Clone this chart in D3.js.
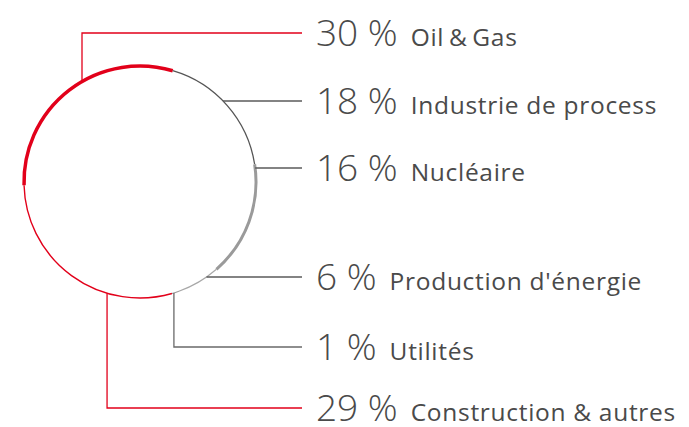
<!DOCTYPE html>
<html><head><meta charset="utf-8">
<script src="https://cdn.jsdelivr.net/npm/d3@7"></script>
<style>html,body{margin:0;padding:0;background:#fff;}svg{display:block;}</style>
</head><body>
<script>
// Data
const categories = ["Oil\u2009&\u2009Gas", "Industrie de process", "Nucléaire", "Production d'énergie", "Utilités", "Construction & autres"];
const values = [30, 18, 16, 6, 1, 29];
const valueLabels = ["30 %", "18 %", "16 %", "6 %", "1 %", "29 %"];

// Styles / layout
const arcColors = ["#e2001a", "#555555", "#9a9a9a", "#a8a8a8", "#9a9a9a", "#e2001a"];
const arcWidths = [3.5, 1.3, 3, 1.2, 1.2, 1.4];
const leaderColors = ["#e2001a", "#5a5a5a", "#5a5a5a", "#5a5a5a", "#6a6a6a", "#e2001a"];
const leaderAngles = [-30, 45.7, 83, 145, 163, 196.5];   // degrees, clockwise from top
const leaderKind = ["v", "h", "h", "h", "v", "v"];
const labelY = [33, 101, 168, 277, 347, 408];

const W = 689, H = 427, cx = 140, cy = 182, R = 116, lineEnd = 302, textX = 316;
const startOffset = -91.6 * Math.PI / 180;

const svg = d3.select("body").append("svg").attr("width", W).attr("height", H);

const pie = d3.pie().sort(null).value(d => d)
  .startAngle(startOffset).endAngle(startOffset + 2 * Math.PI);
const arcs = pie(values);
const g = svg.append("g").attr("transform", `translate(${cx},${cy})`);

g.selectAll("path.seg").data(arcs).join("path")
  .attr("class", "seg")
  .attr("d", d => {
    const p = d3.path();
    const a0 = d.startAngle - Math.PI / 2, a1 = d.endAngle - Math.PI / 2;
    p.moveTo(R * Math.cos(a0), R * Math.sin(a0));
    p.arc(0, 0, R, a0, a1);
    return p.toString();
  })
  .attr("fill", "none")
  .attr("stroke", (d, i) => arcColors[i])
  .attr("stroke-width", (d, i) => arcWidths[i]);

// Leaders
const yScale = d3.scaleIdentity();
categories.forEach((c, i) => {
  const a = leaderAngles[i] * Math.PI / 180;
  const px = cx + R * Math.sin(a), py = cy - R * Math.cos(a);
  const ly = yScale(labelY[i]);
  let pts;
  if (leaderKind[i] === "v") pts = [[px, py], [px, ly], [lineEnd, ly]];
  else pts = [[px, ly], [lineEnd, ly]];
  svg.append("path")
    .attr("d", d3.line()(pts))
    .attr("fill", "none")
    .attr("stroke", leaderColors[i])
    .attr("stroke-width", 1.3);
});

// Labels
const txt = svg.selectAll("text.lab").data(categories).join("text")
  .attr("class", "lab")
  .attr("x", textX)
  .attr("y", (d, i) => labelY[i] + 13.3)
  .attr("fill", "#4a4a4a")
  .style("font-family", "'Open Sans', 'Noto Sans', sans-serif");
txt.append("tspan").attr("font-size", 37).attr("font-weight", 300).text((d, i) => valueLabels[i]);
txt.append("tspan").attr("font-size", 24.5).attr("dx", 13)
  .attr("letter-spacing", 0.7).text(d => d);
</script>
</body></html>
